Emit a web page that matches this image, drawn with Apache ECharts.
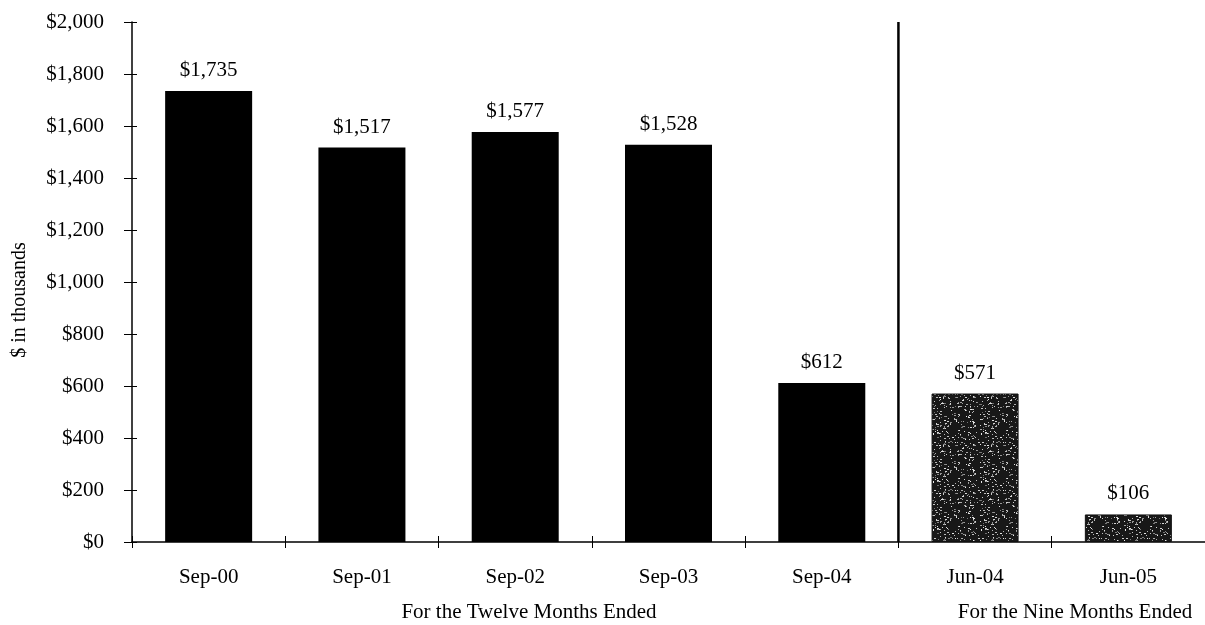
<!DOCTYPE html>
<html>
<head>
<meta charset="utf-8">
<script src="https://cdn.jsdelivr.net/npm/echarts@6/dist/echarts.min.js"></script>
<style>
  html, body { margin: 0; padding: 0; background: #fff; }
  #chart { width: 1205px; height: 625px; }
</style>
</head>
<body>
<div id="chart"></div>
<script>
// Period-end labels and revenue ($ in thousands)
const categories = ['Sep-00', 'Sep-01', 'Sep-02', 'Sep-03', 'Sep-04', 'Jun-04', 'Jun-05'];
const twelveMonthValues = [1735, 1517, 1577, 1528, 612, null, null];
const nineMonthValues = [null, null, null, null, null, 571, 106];
// Axis range
const yMin = 0, yMax = 2000, yStep = 200;
// Index at which the nine-month periods start (divider position)
const dividerAt = 5;
const groupLabels = ['For the Twelve Months Ended', 'For the Nine Months Ended'];

const FONT = '"Liberation Serif", "Times New Roman", serif';
const FS = 21;

// Speckled dark fill for the nine-month bars
function speckleTexture() {
  const c = document.createElement('canvas');
  c.width = 48; c.height = 48;
  const ctx = c.getContext('2d');
  ctx.fillStyle = '#181818';
  ctx.fillRect(0, 0, 48, 48);
  let s = 12345;
  const next = () => (s = (s * 1103515245 + 12345) % 2147483648) / 2147483648;
  for (let i = 0; i < 230; i++) {
    const x = Math.floor(next() * 48), y = Math.floor(next() * 48);
    const g = 110 + Math.floor(next() * 130);
    ctx.fillStyle = 'rgb(' + g + ',' + g + ',' + g + ')';
    ctx.fillRect(x, y, 1 + (next() < 0.3 ? 1 : 0), 1);
  }
  return c;
}

const money = v => '$' + Number(v).toLocaleString('en-US');

const chart = echarts.init(document.getElementById('chart'), null, { renderer: 'canvas' });

const labelStyle = { show: true, position: 'top', distance: 10, color: '#000', fontFamily: FONT, fontSize: FS, formatter: p => money(p.value) };

chart.setOption({
  animation: false,
  backgroundColor: '#fff',
  grid: { left: 132, top: 22, width: 1081, height: 520, containLabel: false },
  xAxis: [
    {
      type: 'category', data: categories, position: 'bottom',
      axisLine: { show: true, lineStyle: { color: '#000', width: 1.5 } },
      axisTick: { show: true, length: 6, lineStyle: { color: '#000', width: 1 } },
      axisLabel: { color: '#000', fontFamily: FONT, fontSize: FS, margin: 25 },
      splitLine: { show: false }
    },
    {
      type: 'category', data: categories, position: 'bottom',
      axisLine: { show: false },
      axisTick: { show: true, inside: true, length: 6, lineStyle: { color: '#000', width: 1 } },
      axisLabel: { show: false }, splitLine: { show: false }
    },
    { type: 'value', min: 0, max: categories.length, show: false }
  ],
  yAxis: [
    {
      type: 'value', min: yMin, max: yMax, interval: yStep, position: 'left',
      axisLine: { show: true, lineStyle: { color: '#000', width: 1.5 } },
      axisTick: { show: true, length: 8, lineStyle: { color: '#000', width: 1 } },
      axisLabel: { color: '#000', fontFamily: FONT, fontSize: FS, margin: 28, formatter: money },
      splitLine: { show: false }
    },
    {
      type: 'value', min: yMin, max: yMax, interval: yStep, position: 'left',
      axisLine: { show: false },
      axisTick: { show: true, inside: true, length: 5, lineStyle: { color: '#000', width: 1 } },
      axisLabel: { show: false }, splitLine: { show: false }
    }
  ],
  series: [
    {
      type: 'bar', xAxisIndex: 0, yAxisIndex: 0, data: twelveMonthValues,
      barWidth: 87, barGap: '-100%',
      itemStyle: { color: '#000' }, label: labelStyle
    },
    {
      type: 'bar', xAxisIndex: 0, yAxisIndex: 0, data: nineMonthValues,
      barWidth: 87, barGap: '-100%',
      itemStyle: { color: { image: speckleTexture(), repeat: 'repeat' }, borderColor: '#111', borderWidth: 1 },
      label: labelStyle
    },
    {
      type: 'line', xAxisIndex: 2, yAxisIndex: 0,
      data: [[dividerAt, yMin], [dividerAt, yMax]],
      symbol: 'none', lineStyle: { color: '#000', width: 2.5 }, silent: true
    }
  ],
  graphic: [
    { type: 'text', x: 20, y: 300, rotation: Math.PI / 2,
      style: { text: '$ in thousands', fontFamily: FONT, fontSize: 20, fill: '#000', align: 'center', verticalAlign: 'middle' } },
    { type: 'text', x: 529, y: 612,
      style: { text: groupLabels[0], fontFamily: FONT, fontSize: FS, fill: '#000', align: 'center', verticalAlign: 'middle' } },
    { type: 'text', x: 1075, y: 612,
      style: { text: groupLabels[1], fontFamily: FONT, fontSize: FS, fill: '#000', align: 'center', verticalAlign: 'middle' } }
  ]
});
</script>
</body>
</html>
